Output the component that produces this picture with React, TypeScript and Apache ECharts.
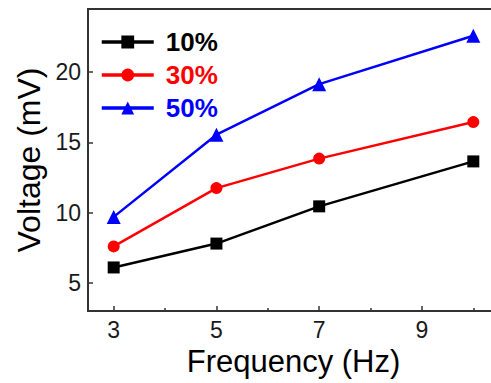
import React, { useEffect, useRef } from "react";
import * as echarts from "echarts";

const frequencies = [3, 5, 7, 10];
const seriesNames = ["10%", "30%", "50%"];
const v10 = [6.1, 7.8, 10.45, 13.65];
const v30 = [7.6, 11.75, 13.85, 16.45];
const v50 = [9.7, 15.55, 19.15, 22.6];
const xTickLabels = [3, 5, 7, 9];
const xMinorTicks = [4, 6, 8, 10];
const yTickLabels = [5, 10, 15, 20];
const colors = ["#000000", "#ff0000", "#0000ff"];
const symbols = ["rect", "circle", "triangle"];

const FONT = "'Liberation Sans', Arial, sans-serif";

export default function App() {
  const ref = useRef<HTMLDivElement>(null);
  useEffect(() => {
    if (!ref.current) return;
    const chart = echarts.init(ref.current, undefined, { renderer: "svg" });
    const values = [v10, v30, v50];
    const axisColor = "#333333";
    chart.setOption({
      animation: false,
      backgroundColor: "#ffffff",
      grid: {
        show: true,
        left: 88,
        top: 9,
        width: 411,
        height: 302,
        outerBoundsMode: "none",
        containLabel: false,
        borderColor: axisColor,
        borderWidth: 2,
        backgroundColor: "transparent",
      },
      legend: {
        orient: "vertical",
        left: 100,
        top: 29,
        padding: 0,
        itemWidth: 52,
        itemHeight: 16,
        itemGap: 7,
        lineStyle: { width: 3.5 },
        textStyle: {
          fontSize: 26,
          fontWeight: "bold",
          fontFamily: FONT,
          padding: [0, 0, 0, 7],
        },
        data: seriesNames.map((n, i) => ({
          name: n,
          textStyle: { color: colors[i] },
        })),
      },
      xAxis: [
        {
          type: "value",
          min: 2.5,
          max: 10.5,
          position: "bottom",
          splitLine: { show: false },
          axisLine: { show: true, lineStyle: { color: axisColor, width: 2 } },
          axisTick: {
            show: true,
            inside: true,
            length: 5,
            customValues: xTickLabels,
            lineStyle: { color: axisColor, width: 1.5 },
          },
          axisLabel: {
            customValues: xTickLabels,
            fontSize: 23,
            fontFamily: FONT,
            color: "#1a1a1a",
            margin: 7,
          },
          name: "Frequency (Hz)",
          nameLocation: "middle",
          nameGap: 30,
          nameTextStyle: { fontSize: 31, fontFamily: FONT, color: "#000" },
        },
        {
          type: "value",
          min: 2.5,
          max: 10.5,
          position: "bottom",
          splitLine: { show: false },
          axisLine: { show: false },
          axisTick: {
            show: true,
            inside: true,
            length: 3,
            customValues: xMinorTicks,
            lineStyle: { color: axisColor, width: 1.5 },
          },
          axisLabel: { show: false },
        },
      ],
      yAxis: {
        type: "value",
        min: 3,
        max: 24.5,
        splitLine: { show: false },
        axisLine: { show: true, lineStyle: { color: axisColor, width: 2 } },
        axisTick: {
          show: true,
          inside: true,
          length: 5,
          customValues: yTickLabels,
          lineStyle: { color: axisColor, width: 1.5 },
        },
        axisLabel: {
          customValues: yTickLabels,
          fontSize: 23,
          fontFamily: FONT,
          color: "#1a1a1a",
          margin: 7,
        },
        name: "Voltage (mV)",
        nameLocation: "middle",
        nameGap: 42,
        nameTextStyle: { fontSize: 32, fontFamily: FONT, color: "#000" },
      },
      series: seriesNames.map((n, i) => ({
        name: n,
        type: "line",
        xAxisIndex: 0,
        data: frequencies.map((f, j) => [f, values[i][j]]),
        symbol: symbols[i],
        symbolSize: i === 2 ? 14 : 12,
        showSymbol: true,
        lineStyle: { color: colors[i], width: 2.5 },
        itemStyle: { color: colors[i] },
      })),
    });
    return () => chart.dispose();
  }, []);
  return (
    <div style={{ position: "fixed", left: 0, top: 0, width: 491, height: 383, overflow: "hidden", background: "#fff" }}>
      <div ref={ref} style={{ width: 520, height: 383 }} />
    </div>
  );
}
